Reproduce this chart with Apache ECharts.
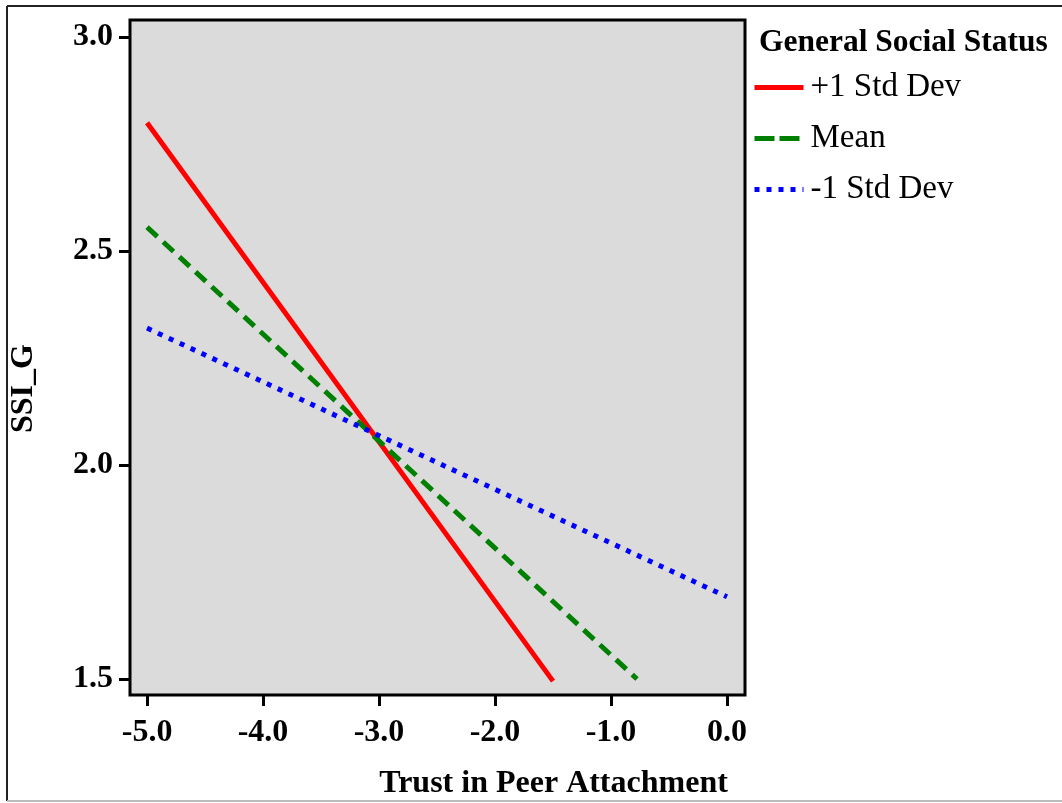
<!DOCTYPE html>
<html>
<head>
<meta charset="utf-8">
<script src="https://cdn.jsdelivr.net/npm/echarts@6/dist/echarts.min.js"></script>
<style>
html,body{margin:0;padding:0;background:#fff;}
#chart{width:1062px;height:803px;}
</style>
</head>
<body>
<div id="chart"></div>
<script>
var xTicks = [-5.0, -4.0, -3.0, -2.0, -1.0, 0.0];
var yTicks = [1.5, 2.0, 2.5, 3.0];
var seriesNames = ['+1 Std Dev', 'Mean', '-1 Std Dev'];
var plusX = [-5.0, -1.5];
var plusY = [2.80, 1.495];
var meanX = [-5.0, -0.776];
var meanY = [2.556, 1.50];
var minusX = [-5.0, 0.0];
var minusY = [2.32, 1.692];

function pairs(xs, ys){ return xs.map(function(x,i){ return [x, ys[i]]; }); }

var FONT = 'Liberation Serif';
var chart = echarts.init(document.getElementById('chart'));
chart.setOption({
  animation: false,
  backgroundColor: '#fff',
  title: {
    text: 'General Social Status',
    left: 759, top: 27, padding: 0,
    textStyle: {fontFamily: FONT, fontWeight: 'bold', fontSize: 31.5, color: '#000'}
  },
  legend: {
    orient: 'vertical',
    left: 752, top: 71, padding: 0,
    itemWidth: 49, itemHeight: 20, itemGap: 18,
    itemStyle: {color: 'transparent', borderWidth: 0, opacity: 0},
    lineStyle: {width: 5},
    textStyle: {fontFamily: FONT, fontSize: 33, color: '#000', padding: [0, 0, 0, 2]},
    data: [
      {name: seriesNames[0], lineStyle: {width: 5, type: 'solid'}},
      {name: seriesNames[1], lineStyle: {width: 5, type: [20, 5]}},
      {name: seriesNames[2], lineStyle: {width: 5, type: [5, 7]}}
    ]
  },
  grid: {
    left: 130, top: 20, width: 615, height: 675,
    outerBoundsMode: 'none', containLabel: false,
    show: true, backgroundColor: '#DBDBDB', borderColor: '#000', borderWidth: 3
  },
  xAxis: {
    type: 'value', min: -5.147, max: 0.155,
    name: 'Trust in Peer Attachment', nameLocation: 'middle', nameGap: 73,
    nameTextStyle: {fontFamily: FONT, fontWeight: 'bold', fontSize: 32, color: '#000', padding: [0, 0, 0, 232]},
    axisLine: {show: false, onZero: false},
    splitLine: {show: false},
    axisTick: {show: true, inside: false, length: 11, customValues: xTicks, lineStyle: {color: '#000', width: 3}},
    axisLabel: {customValues: xTicks, margin: 22, fontFamily: FONT, fontWeight: 'bold', fontSize: 32, color: '#000',
      formatter: function(v){ return v.toFixed(1); }}
  },
  yAxis: {
    type: 'value', min: 1.4626, max: 3.040,
    name: 'SSI_G', nameLocation: 'middle', nameGap: 90,
    nameTextStyle: {fontFamily: FONT, fontWeight: 'bold', fontSize: 32, color: '#000', padding: [0, 62, 0, 0]},
    axisLine: {show: false, onZero: false},
    splitLine: {show: false},
    axisTick: {show: true, inside: false, length: 11, customValues: yTicks, lineStyle: {color: '#000', width: 3}},
    axisLabel: {customValues: yTicks, margin: 17, fontFamily: FONT, fontWeight: 'bold', fontSize: 32, color: '#000',
      formatter: function(v){ return v.toFixed(1); }}
  },
  series: [
    {name: seriesNames[0], type: 'line', symbol: 'none', data: pairs(plusX, plusY),
     lineStyle: {color: '#FF0000', width: 5, type: 'solid'}, itemStyle: {color: '#FF0000'}},
    {name: seriesNames[1], type: 'line', symbol: 'none', data: pairs(meanX, meanY),
     lineStyle: {color: '#008000', width: 5, type: [14, 8]}, itemStyle: {color: '#008000'}},
    {name: seriesNames[2], type: 'line', symbol: 'none', data: pairs(minusX, minusY),
     lineStyle: {color: '#0000FF', width: 5, type: [5, 7]}, itemStyle: {color: '#0000FF'}}
  ],
  graphic: [
    {type: 'line', shape: {x1: 7, y1: 6, x2: 1062, y2: 6}, style: {stroke: '#222', lineWidth: 2}},
    {type: 'line', shape: {x1: 7, y1: 6, x2: 7, y2: 801}, style: {stroke: '#222', lineWidth: 2}},
    {type: 'line', shape: {x1: 7, y1: 801, x2: 1062, y2: 801}, style: {stroke: '#bbb', lineWidth: 2}}
  ]
});
</script>
</body>
</html>
